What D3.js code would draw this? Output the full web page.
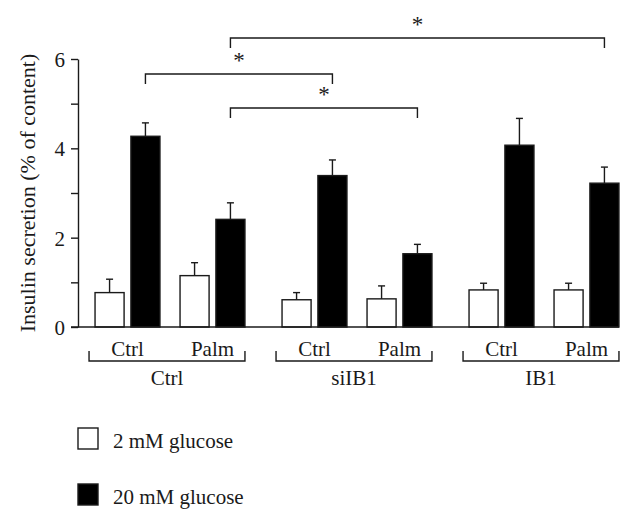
<!DOCTYPE html>
<html><head><meta charset="utf-8">
<script src="https://cdn.jsdelivr.net/npm/d3@7"></script>
<style>html,body{margin:0;padding:0;background:#fff;}svg{display:block;}svg text{font-family:"Liberation Serif","Times New Roman",serif;}</style>
</head><body>
<svg id="chart" width="635" height="520"></svg>
<script>
const groups = ["Ctrl", "siIB1", "IB1"];
const conditions = ["Ctrl", "Palm"];
const glucose = ["2 mM glucose", "20 mM glucose"];
// values [group][condition][glucose]
const means = [
  [[0.77, 4.27], [1.15, 2.41]],
  [[0.61, 3.39], [0.63, 1.64]],
  [[0.83, 4.07], [0.83, 3.22]]
];
const errors = [
  [[0.30, 0.30], [0.29, 0.37]],
  [[0.16, 0.35], [0.29, 0.21]],
  [[0.15, 0.60], [0.15, 0.36]]
];
const yTicks = [0, 1, 2, 3, 4, 5, 6];
const yLabelTicks = [0, 2, 4, 6];
const yTitle = "Insulin secretion (% of content)";
// significance comparisons between 20 mM bars: [group, condition]
const comparisons = [
  {from: [0, 0], to: [1, 0], level: 2},
  {from: [0, 1], to: [1, 1], level: 1},
  {from: [0, 1], to: [2, 1], level: 3}
];
const colors = {"2 mM glucose": "#fff", "20 mM glucose": "#000"};

const svg = d3.select("#chart");
const ink = "#1a1a1a";
const y = d3.scaleLinear().domain([0, 6]).range([327, 59]);
const xGroup = d3.scaleBand().domain(groups).range([76.5, 637.5]).padding(0);
const xCond = d3.scaleBand().domain(conditions).range([0, xGroup.bandwidth()]).paddingInner(0).paddingOuter(0.1);
const xGlu = d3.scaleBand().domain(glucose).range([0, xCond.bandwidth()]).paddingInner(0.19).paddingOuter(0.28);
const bw = xGlu.bandwidth();

const data = [];
groups.forEach((g, gi) => conditions.forEach((c, ci) => glucose.forEach((u, ui) => {
  data.push({g, c, u, gi, ci, ui, v: means[gi][ci][ui], e: errors[gi][ci][ui],
    x: xGroup(g) + xCond(c) + xGlu(u)});
})));

// bars
svg.append("g").selectAll("rect").data(data).join("rect")
  .attr("x", d => d.x).attr("y", d => y(d.v))
  .attr("width", bw).attr("height", d => y(0) - y(d.v))
  .attr("fill", d => colors[d.u]).attr("stroke", ink).attr("stroke-width", 1.4);

// error bars
const eb = svg.append("g").attr("stroke", ink).attr("stroke-width", 1.4);
eb.selectAll("line.v").data(data).join("line").attr("class", "v")
  .attr("x1", d => d.x + bw / 2).attr("x2", d => d.x + bw / 2)
  .attr("y1", d => y(d.v)).attr("y2", d => y(d.v + d.e));
eb.selectAll("line.c").data(data).join("line").attr("class", "c")
  .attr("x1", d => d.x + bw / 2 - 3.5).attr("x2", d => d.x + bw / 2 + 3.5)
  .attr("y1", d => y(d.v + d.e)).attr("y2", d => y(d.v + d.e));

// y axis
const axis = d3.axisLeft(y).tickValues(yTicks).tickSize(7).tickSizeOuter(0)
  .tickFormat(d => yLabelTicks.includes(d) ? d : "");
const ya = svg.append("g").attr("transform", "translate(78,0)").call(axis);
ya.attr("font-family", null).attr("font-size", null);
ya.select(".domain").attr("stroke", ink).attr("stroke-width", 1.4);
ya.selectAll(".tick line").attr("stroke", ink).attr("stroke-width", 1.4);
ya.selectAll(".tick text").style("font-family", '"Liberation Serif", serif').style("font-size", "21px")
  .attr("fill", ink).attr("x", -13).attr("dy", "0.35em");

// baseline
const last = data[data.length - 1];
svg.append("line").attr("x1", 71).attr("x2", last.x + bw).attr("y1", y(0)).attr("y2", y(0))
  .attr("stroke", ink).attr("stroke-width", 1.4);

// y title
svg.append("text").attr("transform", `translate(35,${(y(0) + y(6)) / 2}) rotate(-90)`)
  .attr("text-anchor", "middle").attr("font-size", 22).attr("fill", ink).text(yTitle);

// condition labels
const condLabels = [];
groups.forEach(g => conditions.forEach(c => condLabels.push({g, c})));
svg.append("g").selectAll("text").data(condLabels).join("text")
  .attr("x", d => xGroup(d.g) + xCond(d.c) + xCond.bandwidth() / 2)
  .attr("y", 356).attr("text-anchor", "middle").attr("font-size", 21).attr("fill", ink)
  .text(d => d.c);

// group brackets spanning each group's bars
const groupSpan = g => {
  const bars = data.filter(d => d.g === g);
  return [d3.min(bars, d => d.x) - 6, d3.max(bars, d => d.x + bw)];
};
const gb = svg.append("g").attr("fill", "none").attr("stroke", ink).attr("stroke-width", 1.4);
gb.selectAll("path").data(groups).join("path")
  .attr("d", g => {
    const [a, b] = groupSpan(g);
    return `M${a},351V361H${b}V351`;
  });
svg.append("g").selectAll("text").data(groups).join("text")
  .attr("x", g => d3.mean(groupSpan(g)))
  .attr("y", 385).attr("text-anchor", "middle").attr("font-size", 21).attr("fill", ink)
  .text(g => g);

// significance brackets
const blackCenter = ([gi, ci]) => xGroup(groups[gi]) + xCond(conditions[ci]) + xGlu(glucose[1]) + bw / 2;
const levelY = {1: 108, 2: 74, 3: 38};
const sb = svg.append("g");
comparisons.forEach(cmp => {
  const x1 = blackCenter(cmp.from), x2 = blackCenter(cmp.to), yy = levelY[cmp.level];
  sb.append("path").attr("d", `M${x1},${yy + 10}V${yy}H${x2}V${yy + 10}`)
    .attr("fill", "none").attr("stroke", ink).attr("stroke-width", 1.4);
  sb.append("text").attr("x", (x1 + x2) / 2).attr("y", yy - 6)
    .attr("text-anchor", "middle").attr("font-size", 23).attr("fill", ink).text("*");
});

// legend
const lg = svg.append("g");
glucose.forEach((u, i) => {
  const yy = 428 + i * 56;
  lg.append("rect").attr("x", 78).attr("y", yy).attr("width", 20).attr("height", 21)
    .attr("fill", colors[u]).attr("stroke", ink).attr("stroke-width", 1.4);
  lg.append("text").attr("x", 113).attr("y", yy + 20).attr("font-size", 21).attr("fill", ink).text(u);
});
</script>
</body></html>
